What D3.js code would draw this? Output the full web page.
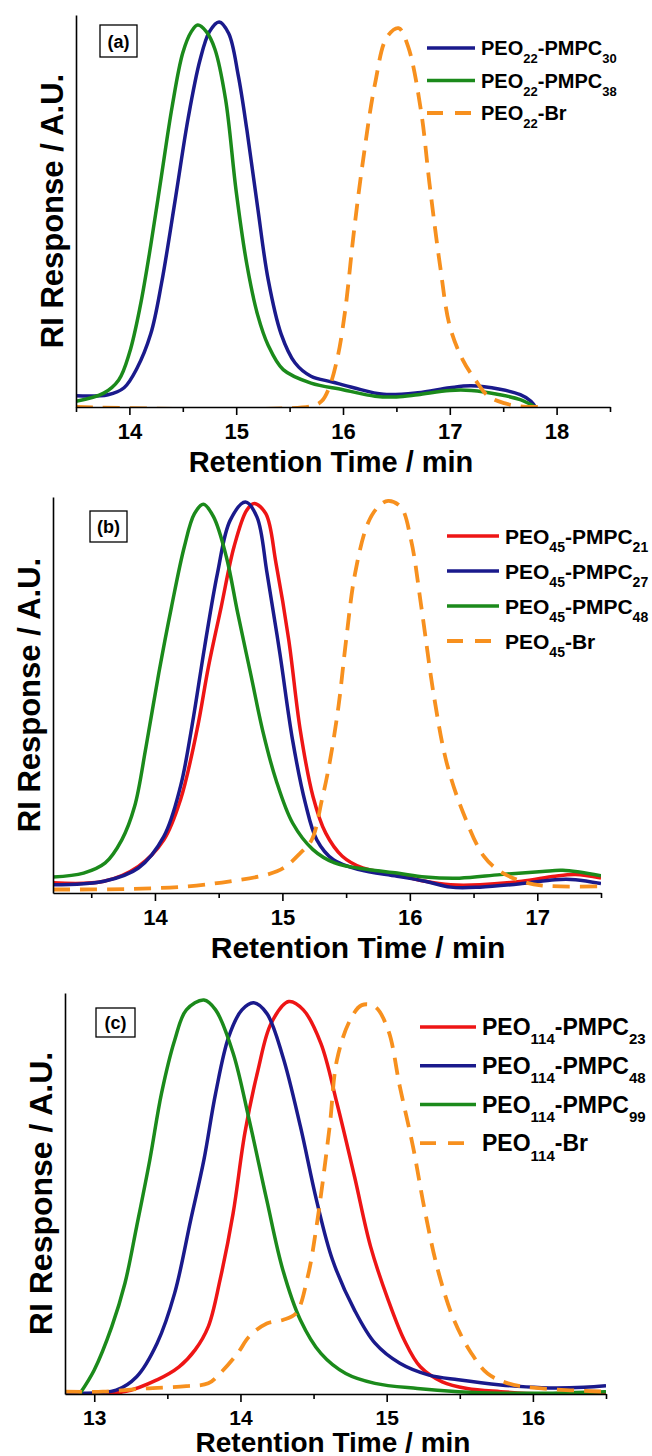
<!DOCTYPE html>
<html>
<head>
<meta charset="utf-8">
<script src="https://d3js.org/d3.v7.min.js"></script>
<style>
body { margin: 0; background: #fff; }
svg text { font-family: "Liberation Sans", Arial, sans-serif; font-weight: bold; }
</style>
</head>
<body>
<script>
// ---- panel (a) ----
var aTicks = [14, 15, 16, 17, 18];
var aMinor = [13.5, 14.5, 15.5, 16.5, 17.5, 18.5];
var aLabels = [["PEO", "22", "-PMPC", "30"], ["PEO", "22", "-PMPC", "38"], ["PEO", "22", "-Br"]];
var aBlue = [[13.5,0.029],[13.8,0.032],[13.95,0.05],[14.07,0.1],[14.2,0.19],[14.3,0.32],[14.43,0.54],[14.55,0.75],[14.66,0.9],[14.75,0.975],[14.84,1.0],[14.93,0.97],[15.02,0.86],[15.1,0.72],[15.2,0.52],[15.3,0.33],[15.42,0.19],[15.55,0.115],[15.7,0.08],[15.9,0.065],[16.1,0.05],[16.38,0.033],[16.7,0.037],[17.0,0.05],[17.2,0.055],[17.47,0.046],[17.66,0.032],[17.76,0.015],[17.8,0]];
var aGreen = [[13.5,0.015],[13.76,0.036],[13.9,0.07],[14.0,0.14],[14.1,0.26],[14.2,0.42],[14.3,0.6],[14.4,0.78],[14.5,0.92],[14.58,0.975],[14.64,0.992],[14.72,0.975],[14.8,0.93],[14.9,0.8],[15.0,0.56],[15.1,0.37],[15.2,0.24],[15.3,0.16],[15.44,0.097],[15.7,0.062],[16.0,0.045],[16.3,0.028],[16.5,0.026],[16.7,0.032],[17.0,0.043],[17.2,0.043],[17.47,0.032],[17.66,0.019],[17.8,0]];
var aOrange = [[13.5,0],[15.7,0.002],[15.8,0.015],[15.87,0.05],[15.95,0.13],[16.02,0.25],[16.1,0.45],[16.18,0.625],[16.3,0.84],[16.41,0.96],[16.52,0.984],[16.61,0.936],[16.73,0.77],[16.81,0.58],[16.91,0.365],[17.0,0.21],[17.12,0.123],[17.24,0.07],[17.36,0.028],[17.51,0.01],[17.66,0.002],[17.85,0]];

// ---- panel (b) ----
var bTicks = [14, 15, 16, 17];
var bMinor = [13.5, 14.5, 15.5, 16.5, 17.5];
var bLabels = [["PEO", "45", "-PMPC", "21"], ["PEO", "45", "-PMPC", "27"], ["PEO", "45", "-PMPC", "48"], ["PEO", "45", "-Br"]];
var bRed = [[13.2,0.026],[13.6,0.03],[13.87,0.068],[14.07,0.136],[14.2,0.238],[14.33,0.417],[14.42,0.579],[14.52,0.732],[14.62,0.885],[14.72,0.979],[14.78,0.996],[14.87,0.97],[14.95,0.843],[15.05,0.647],[15.14,0.417],[15.24,0.247],[15.34,0.153],[15.47,0.094],[15.63,0.064],[15.9,0.047],[16.12,0.03],[16.32,0.021],[16.55,0.021],[16.88,0.03],[17.14,0.043],[17.3,0.047],[17.5,0.038]];
var bBlue = [[13.2,0.021],[13.6,0.03],[13.87,0.064],[14.07,0.145],[14.2,0.272],[14.29,0.426],[14.39,0.63],[14.49,0.817],[14.59,0.953],[14.71,1.0],[14.8,0.962],[14.88,0.817],[14.98,0.613],[15.08,0.391],[15.18,0.23],[15.27,0.136],[15.4,0.085],[15.6,0.06],[15.9,0.043],[16.12,0.03],[16.32,0.015],[16.55,0.015],[16.88,0.024],[17.14,0.034],[17.3,0.034],[17.5,0.024]];
var bGreen = [[13.2,0.041],[13.44,0.051],[13.61,0.077],[13.74,0.136],[13.84,0.221],[13.93,0.374],[14.03,0.562],[14.13,0.732],[14.23,0.885],[14.31,0.97],[14.38,0.994],[14.46,0.962],[14.56,0.86],[14.65,0.715],[14.75,0.562],[14.85,0.409],[14.95,0.289],[15.08,0.179],[15.24,0.111],[15.41,0.077],[15.67,0.06],[15.9,0.051],[16.12,0.041],[16.39,0.038],[16.71,0.047],[17.04,0.055],[17.2,0.058],[17.5,0.044]];
var bOrange = [[13.2,0.009],[13.77,0.01],[14.26,0.017],[14.59,0.03],[14.88,0.047],[15.01,0.064],[15.14,0.102],[15.23,0.136],[15.31,0.238],[15.37,0.332],[15.44,0.477],[15.5,0.647],[15.57,0.817],[15.67,0.945],[15.75,0.987],[15.83,1.003],[15.93,0.987],[16.01,0.902],[16.09,0.732],[16.19,0.502],[16.29,0.332],[16.42,0.204],[16.58,0.094],[16.71,0.055],[16.88,0.03],[17.04,0.019],[17.5,0.017]];

// ---- panel (c) ----
var cTicks = [13, 14, 15, 16];
var cMinor = [13.5, 14.5, 15.5, 16.5];
var cLabels = [["PEO", "114", "-PMPC", "23"], ["PEO", "114", "-PMPC", "48"], ["PEO", "114", "-PMPC", "99"], ["PEO", "114", "-Br"]];
var cRed = [[12.8,0],[13.21,0.006],[13.43,0.036],[13.58,0.069],[13.69,0.112],[13.78,0.171],[13.86,0.289],[13.95,0.459],[14.03,0.662],[14.12,0.822],[14.21,0.941],[14.33,0.996],[14.43,0.975],[14.55,0.89],[14.66,0.738],[14.78,0.552],[14.89,0.374],[15.01,0.239],[15.12,0.137],[15.23,0.069],[15.38,0.031],[15.55,0.014],[15.78,0.006],[16.06,0],[16.5,0]];
var cBlue = [[12.8,0.002],[13.15,0.01],[13.29,0.044],[13.43,0.129],[13.55,0.256],[13.66,0.442],[13.75,0.594],[13.83,0.763],[13.92,0.907],[14.01,0.975],[14.09,0.993],[14.18,0.966],[14.29,0.856],[14.41,0.679],[14.52,0.492],[14.63,0.34],[14.78,0.213],[14.92,0.129],[15.09,0.078],[15.29,0.048],[15.49,0.036],[15.78,0.023],[16.06,0.016],[16.35,0.017],[16.5,0.021]];
var cGreen = [[12.9,0],[13.0,0.061],[13.12,0.171],[13.21,0.281],[13.29,0.425],[13.38,0.594],[13.46,0.763],[13.55,0.898],[13.63,0.975],[13.75,1.0],[13.83,0.975],[13.95,0.865],[14.06,0.695],[14.18,0.492],[14.29,0.315],[14.41,0.188],[14.55,0.103],[14.72,0.052],[14.92,0.027],[15.21,0.014],[15.49,0.006],[15.78,0.002],[16.06,0.002],[16.5,0.006]];
var cOrange = [[12.8,0.006],[13.06,0.006],[13.35,0.014],[13.63,0.02],[13.78,0.027],[13.86,0.052],[13.98,0.103],[14.06,0.146],[14.18,0.179],[14.29,0.188],[14.38,0.205],[14.46,0.298],[14.52,0.425],[14.61,0.679],[14.66,0.848],[14.75,0.949],[14.83,0.987],[14.92,0.983],[15.01,0.924],[15.09,0.78],[15.18,0.628],[15.26,0.467],[15.35,0.315],[15.46,0.188],[15.58,0.103],[15.69,0.052],[15.83,0.027],[16.06,0.014],[16.5,0.006]];

var RED = "#ee1515", BLUE = "#1a1a8c", GREEN = "#1b8a1b", ORANGE = "#f7901e";

var W = 652, H = 1456;
var svg = d3.select("body").append("svg").attr("width", W).attr("height", H);

function drawPanel(p) {
  var x = d3.scaleLinear().domain(p.xDomain).range([p.left, p.right]);
  var vTop = (p.bottom - p.top) / (p.bottom - p.peak);
  var y = d3.scaleLinear().domain([0, vTop]).range([p.bottom, p.top]);
  var g = svg.append("g");

  g.append("clipPath").attr("id", "clip" + p.name)
    .append("rect").attr("x", p.left).attr("y", p.top - 5)
    .attr("width", p.right - p.left).attr("height", p.bottom - p.top + 5);

  var line = d3.line().x(function(d){ return x(d[0]); }).y(function(d){ return y(d[1]); })
    .curve(d3.curveCatmullRom.alpha(0.5));

  p.series.forEach(function(s){
    g.append("path").attr("d", line(s.data)).attr("fill", "none")
      .attr("stroke", s.color).attr("stroke-width", s.dash ? 3.8 : 3.5)
      .attr("stroke-dasharray", s.dash ? "17,10" : null)
      .attr("stroke-linejoin", "round")
      .attr("clip-path", "url(#clip" + p.name + ")");
  });

  // axes
  var xAxis = d3.axisBottom(x).tickValues(p.ticks).tickSize(8).tickSizeOuter(0)
    .tickPadding(8).tickFormat(d3.format("d"));
  var gx = g.append("g").attr("transform", "translate(0," + p.bottom + ")").call(xAxis)
    .attr("font-family", "'Liberation Sans', Arial, sans-serif").attr("font-size", p.tickFont)
    .attr("font-weight", "bold");
  gx.selectAll("line").attr("stroke-width", 1.6);
  gx.select(".domain").attr("stroke-width", 1.6);

  var xMinor = d3.axisBottom(x).tickValues(p.minor).tickSize(5).tickSizeOuter(0).tickFormat("");
  var gm = g.append("g").attr("transform", "translate(0," + p.bottom + ")").call(xMinor);
  gm.select(".domain").remove();
  gm.selectAll("line").attr("stroke-width", 1.6);

  var gy = g.append("g").attr("transform", "translate(" + p.left + ",0)")
    .call(d3.axisLeft(y).tickValues([]).tickSizeOuter(0));
  gy.select(".domain").attr("stroke-width", 1.6);

  // axis titles
  g.append("text").attr("x", p.titleX).attr("y", p.bottom + p.titleDy)
    .attr("text-anchor", "middle").attr("font-size", p.titleFont).text("Retention Time / min");
  g.append("text").attr("text-anchor", "middle").attr("font-size", p.yFont)
    .attr("transform", "translate(" + (p.left - 13) + "," + ((p.top + p.bottom) / 2) + ") rotate(-90)")
    .text("RI Response / A.U.");

  // panel tag
  g.append("rect").attr("x", p.tag[0]).attr("y", p.tag[1]).attr("width", p.tag[2]).attr("height", p.tag[3])
    .attr("fill", "none").attr("stroke", "#000").attr("stroke-width", 1.3);
  g.append("text").attr("x", p.tag[0] + p.tag[2] / 2).attr("y", p.tag[1] + p.tag[3] / 2 + 6.5)
    .attr("text-anchor", "middle").attr("font-size", 18)
    .attr("font-weight", p.tagBold ? "bold" : "normal").text("(" + p.name + ")");

  // legend
  var F = p.legFont, S = Math.round(F * 0.65), off = F * 0.4;
  p.series.forEach(function(s, i){
    var ly = p.legTop + i * p.legStep;
    g.append("line").attr("x1", p.legX).attr("x2", p.legX + p.legLen).attr("y1", ly).attr("y2", ly)
      .attr("stroke", s.color).attr("stroke-width", s.dash ? 3.8 : 3.5)
      .attr("stroke-dasharray", s.dash ? "16,12" : null);
    var t = g.append("text").attr("x", p.legX + p.legLen + 6).attr("y", ly + F * 0.36).attr("font-size", F);
    var down = false;
    s.label.forEach(function(part, k){
      var sub = k % 2 === 1;
      var ts = t.append("tspan").text(part).attr("font-size", sub ? S : F);
      if (sub && !down) { ts.attr("dy", off); down = true; }
      else if (!sub && down) { ts.attr("dy", -off); down = false; }
    });
  });
}

drawPanel({
  name: "a", xDomain: [13.5, 18.5], left: 76, right: 610, top: 15, bottom: 407, peak: 22,
  ticks: aTicks, minor: aMinor, tickFont: 22, titleX: 331, titleDy: 65, titleFont: 29, yFont: 31,
  tag: [100, 25, 37, 32], tagBold: true,
  legX: 427, legLen: 48, legTop: 48, legStep: 32.5, legFont: 20,
  series: [
    { data: aBlue, color: BLUE, label: aLabels[0] },
    { data: aGreen, color: GREEN, label: aLabels[1] },
    { data: aOrange, color: ORANGE, dash: true, label: aLabels[2] }
  ]
});

drawPanel({
  name: "b", xDomain: [13.2, 17.5], left: 53, right: 601, top: 497, bottom: 893, peak: 502,
  ticks: bTicks, minor: bMinor, tickFont: 22, titleX: 358, titleDy: 65, titleFont: 30, yFont: 31,
  tag: [90, 511, 37, 31], tagBold: false,
  legX: 447, legLen: 52, legTop: 536, legStep: 35, legFont: 21,
  series: [
    { data: bRed, color: RED, label: bLabels[0] },
    { data: bBlue, color: BLUE, label: bLabels[1] },
    { data: bGreen, color: GREEN, label: bLabels[2] },
    { data: bOrange, color: ORANGE, dash: true, label: bLabels[3] }
  ]
});

drawPanel({
  name: "c", xDomain: [12.8, 16.5], left: 65, right: 606, top: 993, bottom: 1394, peak: 1000,
  ticks: cTicks, minor: cMinor, tickFont: 21, titleX: 333, titleDy: 58, titleFont: 28, yFont: 32,
  tag: [96, 1008, 39, 29], tagBold: true,
  legX: 420, legLen: 56, legTop: 1027, legStep: 38.7, legFont: 23,
  series: [
    { data: cRed, color: RED, label: cLabels[0] },
    { data: cBlue, color: BLUE, label: cLabels[1] },
    { data: cGreen, color: GREEN, label: cLabels[2] },
    { data: cOrange, color: ORANGE, dash: true, label: cLabels[3] }
  ]
});
</script>
</body>
</html>
